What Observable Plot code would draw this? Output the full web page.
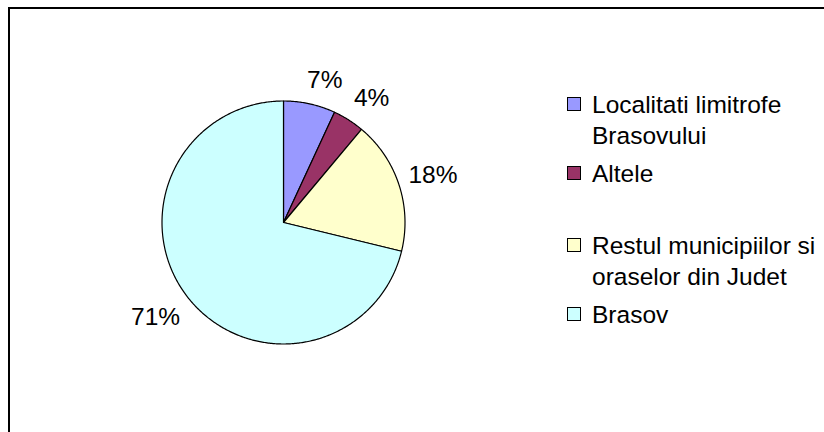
<!DOCTYPE html>
<html>
<head>
<meta charset="utf-8">
<script src="https://cdn.jsdelivr.net/npm/d3@7"></script>
<script src="https://cdn.jsdelivr.net/npm/@observablehq/plot@0.6"></script>
<style>
  html, body { margin: 0; padding: 0; background: #fff; }
  body { width: 824px; height: 432px; position: relative; overflow: hidden;
         font-family: "Liberation Sans", Arial, sans-serif; }
  #frame { position: absolute; left: 8px; top: 7px; width: 1000px; height: 1000px;
           border: 2px solid #000; box-sizing: border-box; }
  #chart { position: absolute; left: 0; top: 0; }
  #legend { position: absolute; left: 567px; top: 89px; display: flex; flex-direction: column; }
  .item { display: flex; align-items: flex-start; font-size: 24.5px; line-height: 31px; color: #000; }
  .item + .item { margin-top: 7px; }
  .item.gap { margin-top: 41px; }
  .sw { width: 14px; height: 14px; box-sizing: border-box; border: 1.5px solid #000;
        margin-top: 8px; margin-right: 11px; flex: none; }
  .lbl { width: 232px; }
</style>
</head>
<body>
<div id="frame"></div>
<div id="chart"></div>
<div id="legend"></div>
<script>
// ---- data ----
const categories = [
  "Localitati limitrofe Brasovului",
  "Altele",
  "Restul municipiilor si oraselor din Judet",
  "Brasov"
];
const shares = [6.9, 4.2, 17.7, 71.2];
const colors = ["#9999FF", "#993366", "#FFFFCC", "#CCFFFF"];

// ---- layout ----
const W = 824, H = 432;
const cx = 283, cy = 222, R = 121.5;
const fontSize = 24.5;

const rows = categories.map((c, i) => ({category: c, value: shares[i]}));
const total = d3.sum(shares);
const arcs = d3.pie().sort(null).value(d => d.value)(rows);

// polygon outline for each slice, in unit-circle coordinates (y up)
const outline = [];
for (const a of arcs) {
  const cat = a.data.category;
  outline.push({category: cat, x: 0, y: 0});
  const n = Math.max(2, Math.ceil((a.endAngle - a.startAngle) / 0.01));
  for (let k = 0; k <= n; k++) {
    const t = a.startAngle + (a.endAngle - a.startAngle) * k / n;
    outline.push({category: cat, x: Math.sin(t), y: Math.cos(t)});
  }
}

// percentage labels placed just outside the pie
function textWidth(s) {
  let w = 0;
  for (const ch of s) w += ch === "%" ? 0.889 : 0.556;
  return w * fontSize;
}
const clamp = t => Math.max(-1, Math.min(1, t));
const labels = arcs.map(a => {
  const mid = (a.startAngle + a.endAngle) / 2;
  const s = Math.sin(mid), c = Math.cos(mid);
  const text = Math.round(a.data.value / total * 100) + "%";
  const w = textWidth(text), h = fontSize * 1.1;
  const rr = 1 + 10 / R;
  return {
    text,
    x: rr * s + (w / 2) * clamp(3.4 * s) / R,
    y: rr * c + (h / 2) * clamp(1.6 * c) / R
  };
});

const plot = Plot.plot({
  width: W,
  height: H,
  margin: 0,
  style: {background: "transparent", fontFamily: "'Liberation Sans', Arial, sans-serif"},
  x: {domain: [-1, 1], range: [cx - R, cx + R], axis: null},
  y: {domain: [-1, 1], range: [cy + R, cy - R], axis: null},
  color: {type: "ordinal", domain: categories, range: colors},
  marks: [
    Plot.line(outline, {
      x: "x", y: "y", z: "category", fill: "category",
      stroke: "#000", strokeWidth: 1.2, curve: "linear-closed", strokeLinejoin: "round"
    }),
    Plot.text(labels, {
      x: "x", y: "y", text: "text", fontSize: fontSize, fill: "#000",
      textAnchor: "middle", lineAnchor: "middle"
    })
  ]
});
document.getElementById("chart").appendChild(plot);

// legend
const legend = document.getElementById("legend");
categories.forEach((c, i) => {
  const item = document.createElement("div");
  item.className = "item" + (i === 2 ? " gap" : "");
  const sw = document.createElement("div");
  sw.className = "sw";
  sw.style.background = colors[i];
  const lbl = document.createElement("div");
  lbl.className = "lbl";
  lbl.textContent = c;
  item.appendChild(sw);
  item.appendChild(lbl);
  legend.appendChild(item);
});
</script>
</body>
</html>
